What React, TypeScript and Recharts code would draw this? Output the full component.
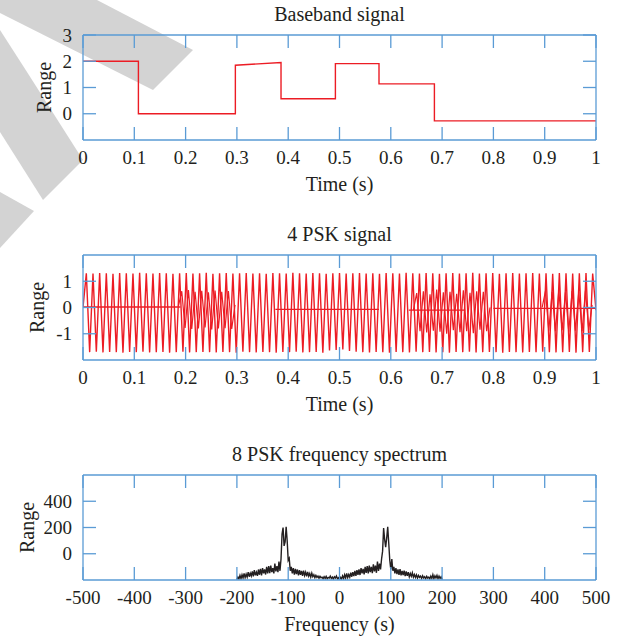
import React from 'react';
import { LineChart, Line, XAxis, YAxis, Label } from 'recharts';

const FONT = '"Liberation Serif", "Times New Roman", serif';
const BLUE = '#5a9bd5';
const RED = '#ec1c24';
const INK = '#231f20';

// ---------- Baseband signal ----------
const baseTimes = [0, 0.108, 0.108, 0.297, 0.297, 0.386, 0.386, 0.492, 0.492, 0.577, 0.577, 0.685, 0.685, 1];
const baseValues = [2, 2, 0, 0, 1.85, 1.95, 0.57, 0.57, 1.91, 1.91, 1.14, 1.14, -0.27, -0.27];
const timeTicks = [0, 0.1, 0.2, 0.3, 0.4, 0.5, 0.6, 0.7, 0.8, 0.9, 1];
const baseYTicks = [0, 1, 2, 3];

// ---------- 4 PSK signal (carrier extremes, one value per half period) ----------
const PSK_STEP = 1 / 154;
const pskCarrier = [
  0,
  1.30, -1.70, 1.29, -1.68, 1.31, -1.71, 1.30, -1.69, 1.28, -1.70,
  1.31, -1.72, 1.30, -1.69, 1.29, -1.70, 1.32, -1.68, 1.30, -1.71,
  1.29, -1.70, 1.31, -1.69, 1.30, -1.72, 1.28, -1.70, 1.30, -1.68,
  1.31, -1.71, 1.29, -1.70, 1.30, -1.69, 1.32, -1.70, 1.28, -1.71,
  1.30, -1.69, 1.31, -1.70, 1.29, -1.72, 1.30, -1.68, 1.31, -1.70,
  1.29, -1.71, 1.30, -1.69, 1.28, -1.70, 1.31, -1.72, 1.30, -1.69,
  1.29, -1.70, 1.32, -1.68, 1.30, -1.71, 1.29, -1.70, 1.31, -1.69,
  1.30, -1.72, 1.28, -1.64, 1.30, -1.62, 1.31, -1.60, 1.29, -1.66,
  1.30, -1.68, 1.31, -1.70, 1.29, -1.71, 1.30, -1.69, 1.28, -1.70,
  1.31, -1.72, 1.30, -1.69, 1.29, -1.70, 1.32, -1.71, 1.30, -1.68,
  1.29, -1.70, 1.31, -1.69, 1.30, -1.71, 1.28, -1.70, 1.30, -1.72,
  1.31, -1.69, 1.29, -1.70, 1.30, -1.68, 1.32, -1.71, 1.29, -1.70,
  1.30, -1.69, 1.31, -1.70, 1.28, -1.72, 1.30, -1.69, 1.31, -1.70,
  1.29, -1.71, 1.30, -1.69, 1.31, -1.70, 1.29, -1.68, 1.30, -1.70,
  1.28, -1.71, 1.31, -1.70, 1.30, -1.69, 1.29, -1.72, 1.30, -1.70,
  1.31, -1.69, 1.29, -0.10,
];
// inner, smaller oscillations overlapping the carrier
const pskInnerStarts = [0.186, 0.644, 0.895];
const pskInnerA = [0.05, 0.62, -0.78, 0.66, -0.82, 0.6, -0.8, 0.64, -0.76, 0.58, -0.84, 0.65, -0.8, 0.6, -0.79, 0.63, -0.82, 0.1];
const pskInnerB = [-0.1, 0.55, -0.9, 0.62, -0.95, 0.5, -0.88, 0.68, -0.92, 0.58, -1.0, 0.6, -0.86, 0.52, -0.94, 0.66, -0.9, 0.56, -0.98, 0.62, -0.85, 0.6, -0.9, 0.0];
const pskInnerC = [0.0, 0.62, -0.88, 0.6, -0.9, 0.65, -0.86, 0.58, -0.92, 0.63, -0.88, 0.6, -0.9, 0.64, -0.85, 0.1];
// flat segments
const pskFlatStarts = [0, 0.375, 0.635, 0.8];
const pskFlatEnds = [0.19, 0.577, 0.745, 1];
const pskFlatLevels = [0.02, -0.07, -0.1, -0.03];
const pskYTicks = [-1, 0, 1];

// ---------- 8 PSK frequency spectrum ----------
const SPEC_START = -200;
const SPEC_STEP = 2;
const specValues = [
  -195, -178, -192, -165, -190, -160, -185, -150, -182, -155,
  -178, -140, -175, -148, -170, -135, -172, -125, -165, -140,
  -168, -120, -160, -115, -165, -110, -150, -120, -158, -100,
  -150, -95, -148, -90, -140, -110, -150, -75, -135, -95,
  -140,
  -60, -130, -40, 150, 200, 60, 90, 205, 100, -50, -35, -130,
  -100, -150, -110, -160, -115, -155, -120, -165, -125, -160,
  -130, -168, -128, -165, -140, -172, -138, -170, -150, -178,
  -148, -175, -160, -182, -165, -180, -170, -186, -172, -183,
  -178, -190, -175, -188, -172, -190, -180, -185, -170, -188,
  -178, -192, -175, -185, -170, -190, -182, -198,
  -180, -192, -168, -190, -160, -185, -150, -182, -158, -178,
  -145, -175, -140, -170, -130, -168, -125, -160, -120, -162,
  -110, -150, -115, -158, -100, -145, -95, -150, -90, -140,
  -100, -148, -80, -135, -90, -145, -60, -130, -75, -120,
  -40, 20, 195, 110, 50, 120, 205, 80, -50, -120,
  -40, -130, -100, -150, -110, -155, -120, -160, -118, -165,
  -130, -162, -128, -170, -135, -168, -140, -175, -150, -172,
  -145, -178, -158, -180, -160, -185, -165, -180, -170, -188,
  -168, -185, -175, -190, -172, -186, -178, -192, -170, -188,
  -160, -190, -168, -185, -165, -190, -170, -188, -175, -195,
];
const freqTicks = [-500, -400, -300, -200, -100, 0, 100, 200, 300, 400, 500];
const specYTicks = [0, 200, 400];

// ---------- derived tables ----------
const baseData = baseTimes.map((t, i) => ({ t, v: baseValues[i] }));
const pskMainData = pskCarrier.map((v, i) => ({ t: i * PSK_STEP, v }));
const innerSets = [pskInnerA, pskInnerB, pskInnerC].map((vals, k) =>
  vals.map((v, i) => ({ t: pskInnerStarts[k] + i * PSK_STEP, v }))
);
const flatSets = pskFlatStarts.map((s, k) => [
  { t: s, v: pskFlatLevels[k] },
  { t: pskFlatEnds[k], v: pskFlatLevels[k] },
]);
const specData = specValues.map((v, i) => ({ t: SPEC_START + i * SPEC_STEP, v }));

const tickStyle = { fontFamily: FONT, fontSize: 19, fill: INK };
const labelStyle = { fontFamily: FONT, fontSize: 20, fill: INK };
const PLOT_H = 105;
const noLabel = () => <g />;

function frame(title: string, xLabel: string, xDomain: number[], xTicks: number[], yDomain: number[], yTicks: number[], rangeX: number, data: any[]) {
  const bottomLabel = (props: any) => {
    const vb = props.viewBox || {};
    const cx = vb.x + vb.width / 2;
    return (
      <g>
        <text x={cx} y={vb.y + 44} textAnchor="middle" dominantBaseline="central" style={labelStyle}>{xLabel}</text>
        <text x={cx} y={vb.y - PLOT_H - 21} textAnchor="middle" dominantBaseline="central" style={labelStyle}>{title}</text>
      </g>
    );
  };
  const leftLabel = (props: any) => {
    const vb = props.viewBox || {};
    const x = rangeX;
    const y = vb.y + vb.height / 2;
    return (
      <text x={x} y={y} transform={`rotate(-90 ${x} ${y})`} textAnchor="middle" dominantBaseline="central" style={labelStyle}>Range</text>
    );
  };
  const line = { stroke: BLUE, strokeWidth: 1.3 };
  return [
    <XAxis key="xb" xAxisId="b" dataKey="t" type="number" domain={xDomain} ticks={xTicks} interval={0}
      allowDataOverflow height={30} tickLine={false} tickSize={0} tickMargin={11} axisLine={line} tick={tickStyle}>
      <Label content={bottomLabel} />
    </XAxis>,
    <XAxis key="xbm" xAxisId="bm" dataKey="t" type="number" domain={xDomain} ticks={xTicks} interval={0}
      allowDataOverflow mirror orientation="bottom" height={30} axisLine={false} tick={noLabel} tickSize={13} tickLine={line} />,
    <XAxis key="xt" xAxisId="t" dataKey="t" type="number" domain={xDomain} ticks={xTicks} interval={0}
      allowDataOverflow mirror orientation="top" height={30} axisLine={line} tick={noLabel} tickSize={13} tickLine={line} />,
    <YAxis key="yl" yAxisId="l" type="number" domain={yDomain} ticks={yTicks} interval={0}
      allowDataOverflow width={40} tickLine={false} tickSize={0} tickMargin={11} axisLine={line} tick={tickStyle}>
      <Label content={leftLabel} />
    </YAxis>,
    <YAxis key="ylm" yAxisId="lm" type="number" domain={yDomain} ticks={yTicks} interval={0}
      allowDataOverflow mirror width={40} axisLine={false} tick={noLabel} tickSize={13} tickLine={line} />,
    <YAxis key="yr" yAxisId="r" orientation="right" type="number" domain={yDomain} ticks={yTicks} interval={0}
      allowDataOverflow mirror width={40} axisLine={line} tick={noLabel} tickSize={13} tickLine={line} />,
    <Line key="h1" xAxisId="t" yAxisId="r" data={data} dataKey="v" stroke="none" dot={false} activeDot={false} legendType="none" isAnimationActive={false} />,
    <Line key="h2" xAxisId="bm" yAxisId="lm" data={data} dataKey="v" stroke="none" dot={false} activeDot={false} legendType="none" isAnimationActive={false} />,
  ];
}

const chartProps = {
  width: 633,
  height: 220,
  margin: { top: 35, right: 37, bottom: 50, left: 43 },
};

export default function App() {
  return (
    <div style={{ position: 'absolute', left: 0, top: 0, width: 633, height: 640, background: '#fff', overflow: 'hidden' }}>
      <svg width={633} height={640} style={{ position: 'absolute', left: 0, top: 0 }}>
        <polygon points="0,0 97,0 193,50 153,90 0,13" fill="#d3d3d3" />
        <polygon points="0,30 27,72 83,160 43,200 0,132" fill="#d3d3d3" />
        <polygon points="0,192 34,211 0,248" fill="#d3d3d3" />
      </svg>
      <div style={{ position: 'absolute', left: 0, top: 0 }}>
        <LineChart {...chartProps}>
          {frame('Baseband signal', 'Time (s)', [0, 1], timeTicks, [-1, 3], baseYTicks, 44, baseData)}
          <Line xAxisId="b" yAxisId="l" data={baseData} dataKey="v" type="linear" stroke={RED} strokeWidth={1.4} dot={false} isAnimationActive={false} />
        </LineChart>
      </div>
      <div style={{ position: 'absolute', left: 0, top: 220 }}>
        <LineChart {...chartProps}>
          {frame('4 PSK signal', 'Time (s)', [0, 1], timeTicks, [-2, 2], pskYTicks, 37, baseData)}
          <Line xAxisId="b" yAxisId="l" data={pskMainData} dataKey="v" type="linear" stroke={RED} strokeWidth={1.4} dot={false} isAnimationActive={false} />
          {innerSets.map((d, k) => (
            <Line key={'in' + k} xAxisId="b" yAxisId="l" data={d} dataKey="v" type="linear" stroke={RED} strokeWidth={1.2} dot={false} isAnimationActive={false} />
          ))}
          {flatSets.map((d, k) => (
            <Line key={'fl' + k} xAxisId="b" yAxisId="l" data={d} dataKey="v" type="linear" stroke={RED} strokeWidth={1.3} dot={false} isAnimationActive={false} />
          ))}
        </LineChart>
      </div>
      <div style={{ position: 'absolute', left: 0, top: 440 }}>
        <LineChart {...chartProps}>
          {frame('8 PSK frequency spectrum', 'Frequency (s)', [-500, 500], freqTicks, [-200, 600], specYTicks, 27, specData)}
          <Line xAxisId="b" yAxisId="l" data={specData} dataKey="v" type="linear" stroke={INK} strokeWidth={1.4} dot={false} isAnimationActive={false} />
        </LineChart>
      </div>
    </div>
  );
}
